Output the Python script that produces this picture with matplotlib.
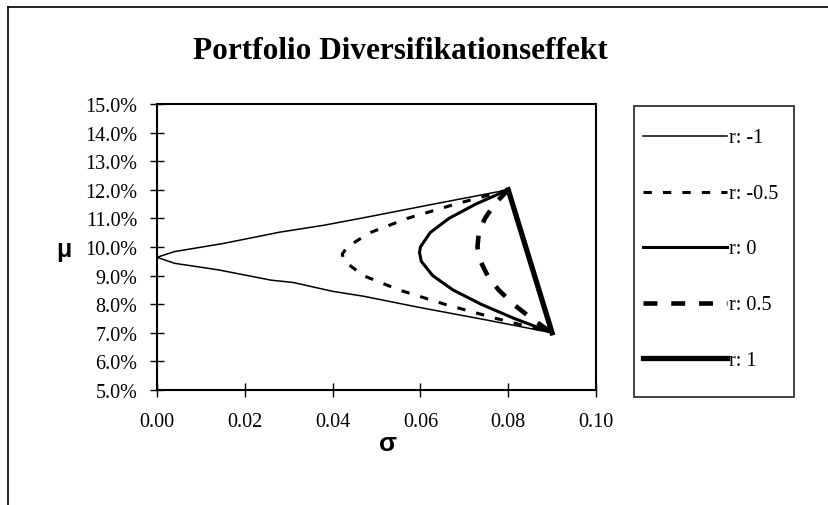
import matplotlib
matplotlib.use("Agg")
import matplotlib.pyplot as plt
from matplotlib.ticker import FuncFormatter
from matplotlib.patches import Rectangle
from matplotlib.lines import Line2D
import numpy as np

plt.rcParams['font.family'] = ['Liberation Serif', 'DejaVu Serif']

# ---- data (sigma, mu in %) ----
labels = ["r: -1", "r: -0.5", "r: 0", "r: 0.5", "r: 1"]

sig_m1 = [0.080, 0.062, 0.048, 0.038, 0.028, 0.015, 0.004, 0.000,
          0.004, 0.014, 0.026, 0.031, 0.040, 0.047, 0.060, 0.075, 0.090]
mu_m1 = [12.00, 11.47, 11.05, 10.76, 10.52, 10.12, 9.84, 9.64,
         9.43, 9.20, 8.84, 8.76, 8.45, 8.28, 7.88, 7.45, 7.00]

sig_m05 = [0.080, 0.068, 0.057, 0.0485, 0.0433, 0.0422, 0.0427, 0.0470,
           0.0551, 0.0655, 0.0773, 0.090]
mu_m05 = [12.0, 11.5, 11.0, 10.5, 10.0, 9.75, 9.5, 9.0, 8.5, 8.0, 7.5, 7.0]

sig_0 = [0.080, 0.0726, 0.0665, 0.0622, 0.0600, 0.0598, 0.0602, 0.0628,
         0.0674, 0.0738, 0.0814, 0.090]
mu_0 = [12.0, 11.5, 11.0, 10.5, 10.0, 9.8, 9.5, 9.0, 8.5, 8.0, 7.5, 7.0]

sig_05 = [0.080, 0.0769, 0.0747, 0.0733, 0.0730, 0.0737, 0.0753, 0.0778,
          0.0812, 0.0853, 0.090]
mu_05 = [12.0, 11.5, 11.0, 10.5, 10.0, 9.5, 9.0, 8.5, 8.0, 7.5, 7.0]

sig_1 = [0.080, 0.081, 0.082, 0.083, 0.084, 0.085, 0.086, 0.087, 0.088, 0.089, 0.090]
mu_1 = [12.0, 11.5, 11.0, 10.5, 10.0, 9.5, 9.0, 8.5, 8.0, 7.5, 7.0]

x_ticks = [0.00, 0.02, 0.04, 0.06, 0.08, 0.10]
y_ticks = [5, 6, 7, 8, 9, 10, 11, 12, 13, 14, 15]

W, H = 829, 506
fig = plt.figure(figsize=(W / 100, H / 100), dpi=100)


def fx(px):
    return px / W


def fy(py):
    return 1 - py / H


ax = fig.add_axes([fx(157), fy(391), fx(596) - fx(157), fy(105) - fy(391)])

series = [
    (sig_m1, mu_m1, dict(lw=1.1, ls='-')),
    (sig_m05, mu_m05, dict(lw=2.2, dashes=(6 / 2.2, 8 / 2.2))),
    (sig_0, mu_0, dict(lw=2.2, ls='-')),
    (sig_05, mu_05, dict(lw=3.3, dashes=(10 / 3.3, 10 / 3.3))),
    (sig_1, mu_1, dict(lw=3.8, ls='-')),
]
for (s, m, st), lab in zip(series, labels):
    ax.plot(s, m, color='black', label=lab, dash_capstyle='butt',
            solid_joinstyle='round', **st)

ax.set_xlim(0, 0.10)
ax.set_ylim(5, 15)
ax.set_xticks(x_ticks)
ax.set_yticks(y_ticks)
ax.xaxis.set_major_formatter(FuncFormatter(lambda v, p: f"{v:.2f}"))
ax.yaxis.set_major_formatter(FuncFormatter(lambda v, p: f"{v:.1f}%"))
ax.tick_params(axis='both', direction='inout', length=10, width=1,
               labelsize=14.5, colors='black')
ax.tick_params(axis='y', pad=9)
ax.tick_params(axis='x', pad=11)
for sp in ax.spines.values():
    sp.set_linewidth(1.5)

fig.text(fx(400.5), fy(59), "Portfolio Diversifikationseffekt",
         ha='center', va='baseline', fontsize=22.5, fontweight='bold')

fig.text(fx(63.5), fy(257), "μ", ha='center', va='baseline',
         fontsize=18, fontweight='bold', family=['Liberation Sans', 'DejaVu Sans'])
fig.text(fx(388), fy(451), "σ", ha='center', va='baseline',
         fontsize=19, fontweight='bold', family=['Liberation Sans', 'DejaVu Sans'])

# legend box
fig.add_artist(Rectangle((fx(634), fy(398)), fx(794) - fx(634), fy(107) - fy(398),
                         transform=fig.transFigure, fill=False, ec='#333333', lw=1.3))
leg = ax.legend(loc='upper left', bbox_to_anchor=(fx(643), fy(129)),
                bbox_transform=fig.transFigure, frameon=False, borderpad=0,
                borderaxespad=0, handlelength=4.15, handleheight=0.4,
                handletextpad=0.1, labelspacing=1.82, fontsize=14.5)

# outer chart frame (top and left visible)
fig.add_artist(Line2D([fx(8), fx(8)], [fy(8), 0], transform=fig.transFigure,
                      color='black', lw=1.2))
fig.add_artist(Line2D([fx(8), 1], [fy(8), fy(8)], transform=fig.transFigure,
                      color='black', lw=1.2))

fig.savefig("out.png", dpi=100)
